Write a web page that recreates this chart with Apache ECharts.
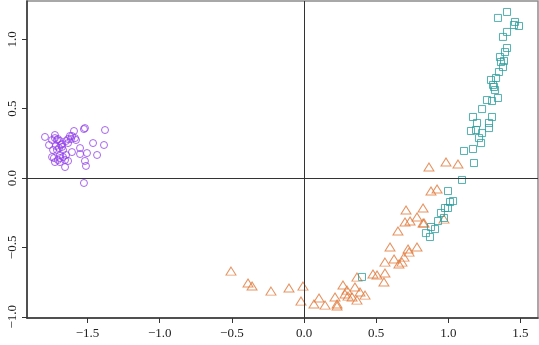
<!DOCTYPE html>
<html>
<head>
<meta charset="utf-8">
<script src="https://cdn.jsdelivr.net/npm/echarts@6/dist/echarts.min.js"></script>
<style>
  html, body { margin: 0; padding: 0; background: #fff; }
  #chart { width: 539px; height: 345px; }
</style>
</head>
<body>
<div id="chart"></div>
<script>
// group 1 (circles)
const groupA = [
  [-1.795, 0.296], [-1.726, 0.288], [-1.705, 0.281], [-1.691, 0.267], [-1.712, 0.274],
  [-1.739, 0.202], [-1.712, 0.202], [-1.746, 0.151], [-1.733, 0.144], [-1.719, 0.231],
  [-1.684, 0.238], [-1.677, 0.224], [-1.670, 0.151], [-1.691, 0.144], [-1.656, 0.130],
  [-1.656, 0.079], [-1.635, 0.123], [-1.622, 0.303], [-1.608, 0.303], [-1.635, 0.281],
  [-1.615, 0.281], [-1.649, 0.267], [-1.594, 0.339], [-1.587, 0.288], [-1.552, 0.216],
  [-1.608, 0.187], [-1.552, 0.173], [-1.504, 0.180], [-1.518, 0.123], [-1.511, 0.087],
  [-1.518, 0.360], [-1.525, 0.353], [-1.462, 0.252], [-1.386, 0.238], [-1.434, 0.166],
  [-1.379, 0.346], [-1.525, -0.036], [-1.705, 0.130], [-1.691, 0.166], [-1.677, 0.245],
  [-1.767, 0.238], [-1.746, 0.274], [-1.726, 0.310], [-1.698, 0.216], [-1.670, 0.202],
  [-1.649, 0.166], [-1.726, 0.115], [-1.691, 0.115], [-1.635, 0.252], [-1.580, 0.274]
];

// group 2 (triangles)
const groupB = [
  [-0.506, -0.671], [-0.388, -0.757], [-0.360, -0.778], [-0.229, -0.815], [-0.104, -0.793],
  [-0.007, -0.779], [-0.021, -0.887], [0.069, -0.908], [0.104, -0.865], [0.146, -0.916],
  [0.215, -0.858], [0.229, -0.908], [0.229, -0.923], [0.270, -0.771], [0.284, -0.836],
  [0.298, -0.808], [0.305, -0.851], [0.333, -0.858], [0.353, -0.786], [0.367, -0.880],
  [0.388, -0.822], [0.423, -0.844], [0.367, -0.714], [0.478, -0.692], [0.506, -0.699],
  [0.561, -0.685], [0.554, -0.750], [0.561, -0.606], [0.624, -0.584], [0.658, -0.620],
  [0.596, -0.497], [0.679, -0.606], [0.693, -0.570], [0.721, -0.512], [0.728, -0.534],
  [0.783, -0.497], [0.651, -0.382], [0.700, -0.317], [0.735, -0.310], [0.783, -0.281],
  [0.825, -0.324], [0.832, -0.324], [0.707, -0.231], [0.825, -0.216], [0.970, -0.296],
  [0.866, 0.079], [0.984, 0.115], [1.067, 0.101], [0.880, -0.094], [0.922, -0.079]
];

// group 3 (squares)
const groupC = [
  [1.407, 1.197], [1.344, 1.154], [1.462, 1.125], [1.455, 1.103], [1.490, 1.096],
  [1.407, 1.053], [1.379, 1.017], [1.407, 0.937], [1.393, 0.908], [1.358, 0.872],
  [1.386, 0.844], [1.365, 0.836], [1.379, 0.800], [1.351, 0.764], [1.331, 0.721],
  [1.296, 0.707], [1.310, 0.671], [1.317, 0.656], [1.324, 0.634], [1.344, 0.577],
  [1.268, 0.562], [1.303, 0.555], [1.234, 0.497], [1.171, 0.440], [1.303, 0.440],
  [1.199, 0.397], [1.282, 0.397], [1.282, 0.360], [1.157, 0.339], [1.192, 0.346],
  [1.234, 0.324], [1.213, 0.288], [1.227, 0.252], [1.109, 0.195], [1.171, 0.209],
  [1.178, 0.108], [1.095, -0.014], [0.998, -0.094], [1.012, -0.173], [1.033, -0.166],
  [0.977, -0.216], [0.998, -0.216], [0.949, -0.252], [0.970, -0.288], [0.929, -0.310],
  [0.880, -0.353], [0.908, -0.368], [0.845, -0.397], [0.873, -0.425], [0.402, -0.713]
];

const xTicks = [-1.5, -1.0, -0.5, 0.0, 0.5, 1.0, 1.5];
const yTicks = [-1.0, -0.5, 0.0, 0.5, 1.0];

const fmt = v => (v < 0 ? "\u2212" : "") + Math.abs(v).toFixed(1);
const labelFont = { fontFamily: "Liberation Serif", fontSize: 13, color: "#222" };

const chart = echarts.init(document.getElementById("chart"), null, { renderer: "canvas" });

chart.setOption({
  animation: false,
  backgroundColor: "#fff",
  grid: {
    left: 27, right: 1, top: 1, bottom: 27,
    show: true, borderColor: "#8c8c8c", borderWidth: 1.5, backgroundColor: "transparent"
  },
  xAxis: {
    type: "value",
    min: -1.9196, max: 1.6216,
    splitLine: { show: false },
    axisLine: { show: true, onZero: false, lineStyle: { color: "#333", width: 1.5 } },
    axisTick: { show: true, length: 5, customValues: xTicks, lineStyle: { color: "#333" } },
    axisLabel: { ...labelFont, margin: 9, customValues: xTicks, formatter: fmt }
  },
  yAxis: {
    type: "value",
    min: -1.009, max: 1.276,
    splitLine: { show: false },
    axisLine: { show: true, onZero: false, lineStyle: { color: "#333", width: 1.5 } },
    axisTick: { show: true, length: 5, customValues: yTicks, lineStyle: { color: "#333" } },
    axisLabel: { ...labelFont, margin: 8, rotate: 90, customValues: yTicks, formatter: fmt }
  },
  series: [
    {
      type: "scatter",
      data: groupA,
      symbol: "circle",
      symbolSize: 7,
      itemStyle: { color: "transparent", borderColor: "#9140e8", borderWidth: 1 },
      markLine: {
        silent: true,
        symbol: "none",
        label: { show: false },
        lineStyle: { color: "#333", width: 1, type: "solid" },
        data: [{ xAxis: 0 }, { yAxis: 0 }]
      }
    },
    {
      type: "scatter",
      data: groupB,
      symbol: "triangle",
      symbolSize: [10, 8],
      itemStyle: { color: "transparent", borderColor: "#e0783a", borderWidth: 1 }
    },
    {
      type: "scatter",
      data: groupC,
      symbol: "rect",
      symbolSize: 7,
      itemStyle: { color: "transparent", borderColor: "#2a9e9e", borderWidth: 1 }
    }
  ]
});
</script>
</body>
</html>
